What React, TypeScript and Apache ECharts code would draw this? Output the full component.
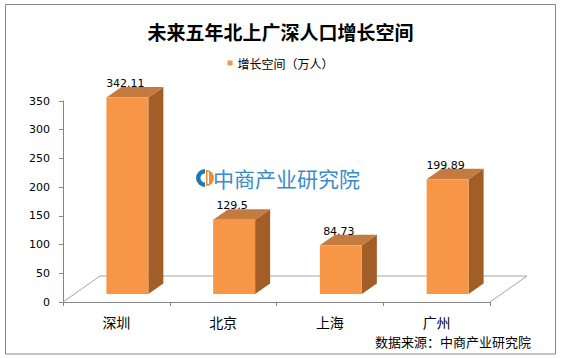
import React, { useEffect, useRef } from "react";
import * as echarts from "echarts";

const categories = ["深圳", "北京", "上海", "广州"];
const values = [342.11, 129.5, 84.73, 199.89];
const valueLabels = ["342.11", "129.5", "84.73", "199.89"];
const yMin = 0;
const yMax = 350;
const yInterval = 50;
const titleText = "未来五年北上广深人口增长空间";
const seriesName = "增长空间（万人）";
const sourceText = "数据来源：中商产业研究院";
const watermarkText = "中商产业研究院";

const CJK = "'Noto Sans CJK SC', 'Noto Sans', sans-serif";
const NUM = "'DejaVu Sans', sans-serif";

export default function App() {
  const ref = useRef<HTMLDivElement>(null);
  useEffect(() => {
    if (!ref.current) return;
    const chart = echarts.init(ref.current, null, { renderer: "svg" });
    const FRONT = "#F79646";
    const TOP = "#C47B3F";
    const SIDE = "#A35D26";
    const ox = 11, oy = -8; // bar placement inside floor depth
    const dx = 15, dy = -10.5; // bar depth
    const fdx = 37, fdy = -26; // floor depth

    chart.setOption({
      animation: false,
      backgroundColor: "#fff",
      title: {
        text: titleText,
        left: "center",
        top: 17,
        textStyle: { fontFamily: CJK, fontWeight: "bold", fontSize: 19, color: "#000" },
      },
      legend: {
        top: 52,
        left: "center",
        icon: "rect",
        itemWidth: 5,
        itemHeight: 5,
        itemGap: 10,
        textStyle: { fontFamily: CJK, fontSize: 12, color: "#000", padding: [0, 0, 0, 0] },
        data: [seriesName],
      },
      grid: { left: 63, right: 71, top: 101, bottom: 56 },
      xAxis: {
        type: "category",
        data: categories,
        boundaryGap: true,
        axisLine: { lineStyle: { color: "#868686", width: 1 } },
        axisTick: { show: true, length: 4, lineStyle: { color: "#868686" } },
        axisLabel: { fontFamily: CJK, fontSize: 14, lineHeight: 14, color: "#000", margin: 13 },
      },
      yAxis: {
        type: "value",
        min: yMin,
        max: yMax,
        interval: yInterval,
        axisLine: { show: true, lineStyle: { color: "#868686", width: 1 } },
        axisTick: { show: true, length: 4, lineStyle: { color: "#868686" } },
        splitLine: { show: false },
        axisLabel: { fontFamily: NUM, fontSize: 11, color: "#000", margin: 13 },
      },
      series: [
        {
          type: "custom",
          name: "floor",
          silent: true,
          z: 1,
          data: [[0, 0]],
          encode: { x: 0, y: 1 },
          renderItem: (params: any, api: any) => {
            const cs = params.coordSys;
            const x = cs.x, yb = cs.y + cs.height, w = cs.width;
            return {
              type: "polyline",
              shape: {
                points: [
                  [x, yb],
                  [x + fdx, yb + fdy],
                  [x + w + fdx, yb + fdy],
                  [x + w, yb],
                ],
              },
              style: { stroke: "#A6A6A6", lineWidth: 1, fill: null },
            };
          },
        },
        {
          type: "custom",
          name: seriesName,
          z: 2,
          itemStyle: { color: FRONT },
          data: values.map((v, i) => [i, v]),
          encode: { x: 0, y: 1 },
          renderItem: (params: any, api: any) => {
            const i = api.value(0);
            const v = api.value(1);
            const base = api.coord([i, 0]);
            const top = api.coord([i, v]);
            const band = api.size([1, 0])[0];
            const w = band * 0.393;
            const x0 = base[0] - w / 2 + ox;
            const x1 = x0 + w;
            const yb = base[1] + oy;
            const yt = top[1] + oy;
            return {
              type: "group",
              children: [
                {
                  type: "polygon",
                  shape: { points: [[x1, yt], [x1 + dx, yt + dy], [x1 + dx, yb + dy], [x1, yb]] },
                  style: { fill: SIDE },
                },
                {
                  type: "polygon",
                  shape: { points: [[x0, yt], [x0 + dx, yt + dy], [x1 + dx, yt + dy], [x1, yt]] },
                  style: { fill: TOP },
                },
                {
                  type: "rect",
                  shape: { x: x0, y: yt, width: w, height: yb - yt },
                  style: { fill: FRONT },
                },
                {
                  type: "text",
                  x: (x0 + x1) / 2 - 2,
                  y: yt - 14,
                  style: {
                    text: valueLabels[params.dataIndex],
                    fontFamily: NUM,
                    fontSize: 11,
                    fill: "#000",
                    align: "center",
                    verticalAlign: "middle",
                  },
                },
              ],
            };
          },
        },
      ],
      graphic: [
        {
          type: "rect",
          shape: { x: 5.5, y: 4.5, width: 550, height: 349.5 },
          style: { fill: null, stroke: "#868686", lineWidth: 1 },
          silent: true,
        },
        {
          type: "group",
          silent: true,
          children: [
            {
              type: "sector",
              shape: { cx: 205, cy: 178, r: 9, r0: 4.5, startAngle: Math.PI / 2, endAngle: (3 * Math.PI) / 2 },
              style: { fill: "#1F78B8" },
            },
            {
              type: "sector",
              shape: { cx: 206, cy: 178, r: 8, r0: 0, startAngle: -Math.PI / 2, endAngle: Math.PI / 2 },
              style: { fill: "#F08A2C" },
            },
            {
              type: "rect",
              shape: { x: 207.5, y: 172, width: 1.5, height: 12 },
              style: { fill: "#fff" },
            },
            {
              type: "text",
              x: 213,
              y: 178,
              style: {
                text: watermarkText,
                fontFamily: CJK,
                fontSize: 21,
                fill: "#3A8CC8",
                verticalAlign: "middle",
              },
            },
          ],
        },
        {
          type: "text",
          x: 375,
          y: 341,
          silent: true,
          style: {
            text: sourceText,
            fontFamily: CJK,
            fontSize: 13,
            lineHeight: 13,
            fill: "#000",
            verticalAlign: "middle",
          },
        },
      ],
    });
    return () => chart.dispose();
  }, []);
  return (
    <div
      ref={ref}
      style={{ position: "fixed", left: 0, top: 0, width: 561, height: 358 }}
    />
  );
}
